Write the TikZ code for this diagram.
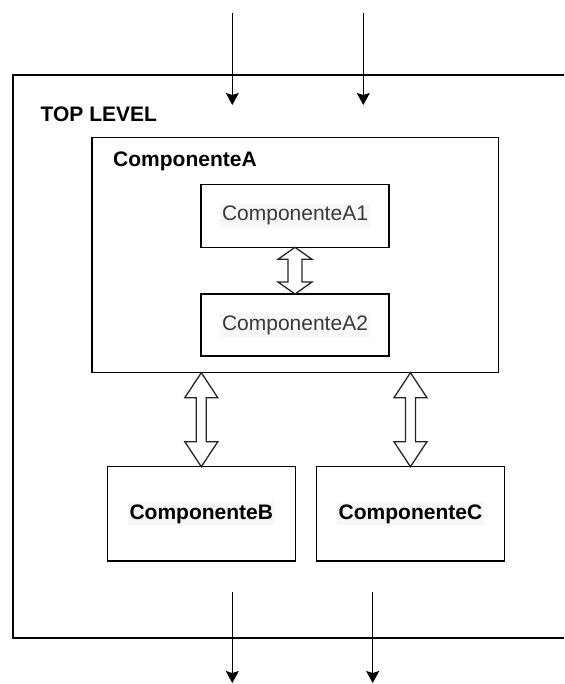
\documentclass[tikz,border=0pt]{standalone}
\usepackage{fontspec}
\setmainfont{Liberation Sans}
\usetikzlibrary{arrows.meta,calc}

\definecolor{hlbg}{HTML}{F7F7F7}
\definecolor{subtxt}{HTML}{3A3A3A}

\tikzset{
  box/.style={draw=black, line width=1.3pt, fill=white, rectangle,
              inner sep=0pt, outer sep=0pt, anchor=north west,
              font=\fontsize{21}{25}\selectfont},
  flow/.style={draw=black, line width=1.3pt,
               -{Stealth[length=12pt,width=13pt,inset=2pt]}},
  blk/.style={draw=black!85, line width=1.3pt, fill=white, line join=miter},
  title/.style={font=\fontsize{21}{25}\selectfont\bfseries,
                inner sep=0pt, anchor=base west},
}

% light highlight behind a label
\newcommand{\hl}[1]{{\setlength{\fboxsep}{2pt}\colorbox{hlbg}{#1}}}

% hollow double-headed block arrow from #1 (top) to #2 (bottom)
% #3 head length, #4 half head width, #5 half shaft width
\newcommand{\dblarrow}[5]{%
  \draw[blk] let \p1=(#1), \p2=(#2) in
    (\x1,\y1) -- (\x1+#4,\y1-#3) -- (\x1+#5,\y1-#3) --
    (\x1+#5,\y2+#3) -- (\x1+#4,\y2+#3) -- (\x1,\y2) --
    (\x1-#4,\y2+#3) -- (\x1-#5,\y2+#3) -- (\x1-#5,\y1-#3) --
    (\x1-#4,\y1-#3) -- cycle;}

\begin{document}
\begin{tikzpicture}[x=1pt,y=-1pt]
  \useasboundingbox (0,0) rectangle (564,684);
  \clip (0,0) rectangle (564,684);

  % top level container (runs off to the right)
  \node[box, minimum width=620, minimum height=563] (top) at (13,75) {};
  \node[title] (toplbl) at (40.5,121.7) {TOP LEVEL};

  % component A with its two sub-components
  \node[box, minimum width=406.5, minimum height=235] (A) at (92,137.7) {};
  \node[title] (Albl) at (113,167) {ComponenteA};
  \node[box, minimum width=188, minimum height=63] (A1) at (201,184.3)
    {\textcolor{subtxt}{\hl{ComponenteA1}}};
  \node[box, minimum width=188, minimum height=62] (A2) at (201,294)
    {\textcolor{subtxt}{\hl{ComponenteA2}}};

  % components B and C
  \node[box, minimum width=188, minimum height=94.3] (B) at (107.3,466.7)
    {\hl{\bfseries ComponenteB}};
  \node[box, minimum width=187.5, minimum height=94.3] (C) at (316.7,466.7)
    {\hl{\bfseries ComponenteC}};

  % bidirectional links
  \dblarrow{A1.south}{A2.north}{12pt}{17pt}{7pt}
  \dblarrow{A.south -| B.north}{B.north}{25pt}{16.5pt}{5pt}
  \dblarrow{A.south -| C.north}{C.north}{25pt}{16.5pt}{5pt}

  % external inputs
  \coordinate (in1) at (232.3,13);   \coordinate (in1e) at (232.3,105);
  \coordinate (in2) at (363.3,13);   \coordinate (in2e) at (363.3,105);
  \draw[flow] (in1) -- (in1e);
  \draw[flow] (in2) -- (in2e);

  % external outputs
  \coordinate (out1) at (232.3,592); \coordinate (out1e) at (232.3,683);
  \coordinate (out2) at (372.7,592); \coordinate (out2e) at (372.7,683);
  \draw[flow] (out1) -- (out1e);
  \draw[flow] (out2) -- (out2e);
\end{tikzpicture}
\end{document}
